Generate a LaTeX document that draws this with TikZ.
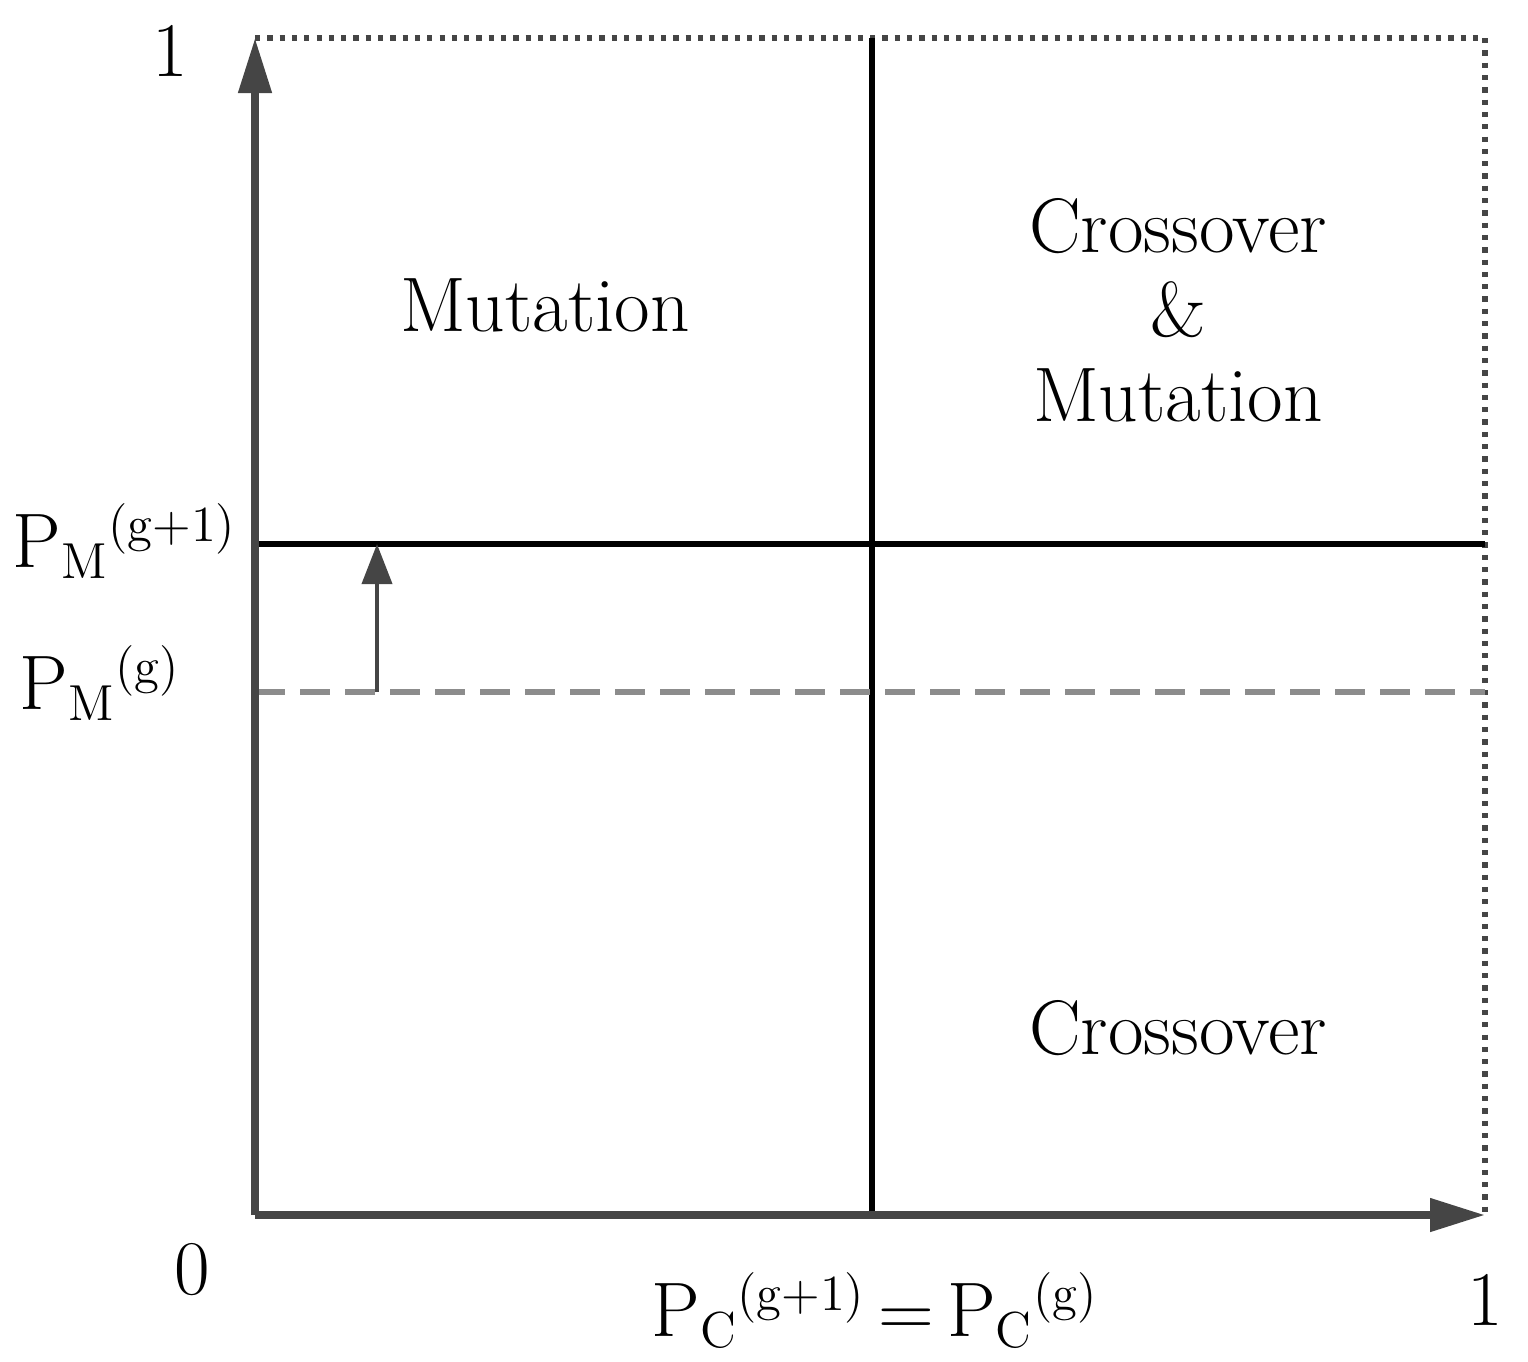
\documentclass[tikz,border=0pt]{standalone}
\usepackage{tikz}
\usetikzlibrary{arrows.meta}
\definecolor{axisgray}{gray}{0.27}
\definecolor{dashgray}{gray}{0.55}
\tikzset{
  axis/.style={line width=2.2pt, axisgray, -{Triangle[length=0.55cm,width=0.32cm]}},
  split/.style={line width=1.7pt, black},
  lbl/.style={font=\fontsize{22}{26}\selectfont, inner sep=0pt},
}
\begin{document}
\begin{tikzpicture}[]
  \useasboundingbox (0,0) rectangle (15.28,13.61);
  \coordinate (o) at (2.55,1.46);
  \coordinate (xt) at (14.85,1.46);
  \coordinate (yt) at (2.55,13.23);
  \coordinate (tr) at (14.85,13.23);
  \draw [dash pattern=on 1.5pt off 2pt, line width=1.5pt, axisgray] (yt) -- (tr) -- (xt);

  \draw [split] (8.72,1.46) -- (8.72,13.23);
  \draw [split] (2.55,8.17) -- (14.85,8.17);
  \draw [dashgray, line width=1.8pt, dash pattern=on 0.3cm off 0.15cm] (2.55,6.69) -- (14.85,6.69);

  \coordinate (ms) at (3.77,6.69);
  \coordinate (me) at (3.77,8.17);
  \draw [axisgray, line width=1.1pt, -{Triangle[length=0.4cm,width=0.3cm]}] (ms) -- (me);

  \draw [axis] (o) -- (yt);
  \draw [axis] (o) -- (xt);

  \node [lbl] (one) at (1.70,13.1) {1};
  \node [lbl] (zero) at (1.92,0.91) {0};
  \node [lbl] (onex) at (14.85,0.61) {1};
  \node [lbl] (pc) at (8.75,0.51) {P$_{\mathrm{C}}$$^{\mathrm{(g+1)}}$\,=\,P$_{\mathrm{C}}$$^{\mathrm{(g)}}$};
  \node [lbl] (pmn) at (1.25,8.2) {P$_{\mathrm{M}}$$^{\mathrm{(g+1)}}$};
  \node [lbl] (pm) at (1.0,6.78) {P$_{\mathrm{M}}$$^{\mathrm{(g)}}$};
  \node [lbl] (mut) at (5.45,10.56) {Mutation};
  \node [lbl, align=center] (cm) at (11.78,10.51) {Crossover\\[-2pt]\&\\[-2pt]Mutation};
  \node [lbl] (cro) at (11.78,3.33) {Crossover};
\end{tikzpicture}
\end{document}
